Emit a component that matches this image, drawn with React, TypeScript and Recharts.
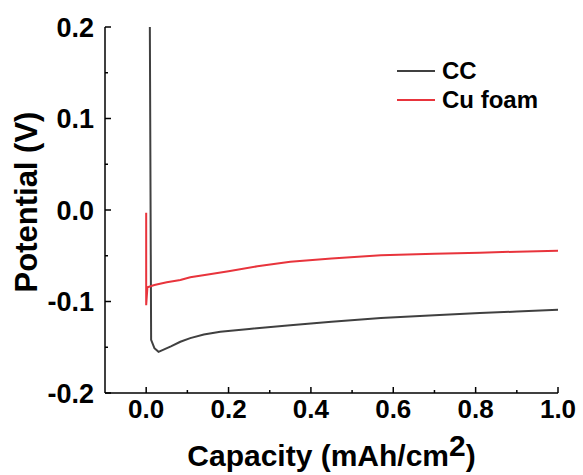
import React from "react";
import { LineChart, Line, XAxis, YAxis } from "recharts";

const ccX = [0.008, 0.012, 0.02, 0.03, 0.045, 0.06, 0.083, 0.107, 0.14, 0.18, 0.25, 0.35, 0.45, 0.57, 0.7, 0.81, 0.9, 1.0];
const ccY = [0.3, -0.142, -0.151, -0.155, -0.152, -0.149, -0.144, -0.14, -0.136, -0.133, -0.13, -0.126, -0.122, -0.118, -0.115, -0.1126, -0.111, -0.109];

const cuX = [0.0, 0.0, 0.003, 0.02, 0.05, 0.083, 0.107, 0.15, 0.2, 0.27, 0.35, 0.45, 0.57, 0.7, 0.81, 0.9, 1.0];
const cuY = [-0.003, -0.104, -0.0845, -0.082, -0.079, -0.0765, -0.0735, -0.0705, -0.067, -0.0615, -0.0565, -0.053, -0.0495, -0.0478, -0.0467, -0.0455, -0.0445];

const xTicks = [0, 0.1, 0.2, 0.3, 0.4, 0.5, 0.6, 0.7, 0.8, 0.9, 1.0];
const yTicks = [-0.2, -0.15, -0.1, -0.05, 0, 0.05, 0.1, 0.15, 0.2];

const seriesNames = ["CC", "Cu foam"];
const seriesColors = ["#404040", "#e8343c"];

const ccData = ccX.map((x, i) => ({ x, v: ccY[i] }));
const cuData = cuX.map((x, i) => ({ x, v: cuY[i] }));

const FONT = "'Liberation Sans', Arial, Helvetica, sans-serif";

const XTick = (props: any) => {
  const { x, y, payload } = props;
  const v = payload.value;
  const major = Math.round(v * 10) % 2 === 0;
  return (
    <g>
      <line x1={x} y1={y} x2={x} y2={y - (major ? 6 : 3)} stroke="#000" strokeWidth={1.5} />
      {major && (
        <text x={x} y={y + 25} textAnchor="middle" fontFamily={FONT} fontWeight="bold" fontSize={26} fill="#000">
          {v.toFixed(1)}
        </text>
      )}
    </g>
  );
};

const YTick = (props: any) => {
  const { x, y, payload } = props;
  const v = payload.value;
  const major = Math.abs(Math.round(v * 100)) % 10 === 0;
  return (
    <g>
      <line x1={x} y1={y} x2={x + (major ? 6 : 3)} y2={y} stroke="#000" strokeWidth={1.5} />
      {major && (
        <text x={x - 11} y={y + 9.5} textAnchor="end" fontFamily={FONT} fontWeight="bold" fontSize={27} fill="#000">
          {v.toFixed(1)}
        </text>
      )}
    </g>
  );
};

const LegendBox = () => (
  <svg width={170} height={60} style={{ position: "absolute", left: 397, top: 61, overflow: "visible" }}>
    {seriesNames.map((n, i) => (
      <g key={n}>
        <line x1={0} x2={38} y1={10 + i * 29} y2={10 + i * 29} stroke={seriesColors[i]} strokeWidth={2.2} />
        <text x={45} y={18 + i * 29} fontFamily={FONT} fontWeight="bold" fontSize={24} fill="#000">
          {n}
        </text>
      </g>
    ))}
  </svg>
);

export default function App() {
  return (
    <div style={{ position: "absolute", left: 0, top: 0, width: 583, height: 475, background: "#fff" }}>
      <LineChart width={583} height={475} margin={{ top: 27, right: 25, left: 0, bottom: 0 }}>
        <XAxis
          xAxisId={0}
          dataKey="x"
          type="number"
          domain={[-0.1, 1.0]}
          ticks={xTicks}
          allowDataOverflow
          interval={0}
          height={82}
          tickSize={0}
          tickMargin={0}
          tickLine={false}
          axisLine={{ stroke: "#000", strokeWidth: 1.5 }}
          tick={<XTick />}
          label={{
            content: (p: any) => {
              const vb = p.viewBox;
              return (
                <text x={vb.x + vb.width / 2} y={466} textAnchor="middle" fontFamily={FONT} fontWeight="bold" fontSize={30} fill="#000">
                  Capacity (mAh/cm<tspan dy={-10}>2</tspan><tspan dy={10}>)</tspan>
                </text>
              );
            },
          }}
        />
        <XAxis xAxisId="top" orientation="top" type="number" domain={[-0.1, 1.0]} height={0} tick={false} tickLine={false} axisLine={{ stroke: "#000", strokeWidth: 1.5 }} />
        <YAxis
          yAxisId={0}
          type="number"
          domain={[-0.2, 0.2]}
          ticks={yTicks}
          allowDataOverflow
          interval={0}
          width={105}
          tickSize={0}
          tickMargin={0}
          tickLine={false}
          axisLine={{ stroke: "#000", strokeWidth: 1.5 }}
          tick={<YTick />}
          label={{
            content: () => {
              const cx = 37;
              const cy = 202;
              return (
                <text x={cx} y={cy} transform={`rotate(-90, ${cx}, ${cy})`} textAnchor="middle" fontFamily={FONT} fontWeight="bold" fontSize={31} fill="#000">
                  Potential (V)
                </text>
              );
            },
          }}
        />
        <YAxis yAxisId="right" orientation="right" type="number" domain={[-0.2, 0.2]} width={0} tick={false} tickLine={false} axisLine={{ stroke: "#000", strokeWidth: 1.5 }} />
        <Line data={ccData} dataKey="v" name={seriesNames[0]} type="linear" stroke={seriesColors[0]} strokeWidth={2} dot={false} isAnimationActive={false} />
        <Line data={cuData} dataKey="v" name={seriesNames[1]} type="linear" stroke={seriesColors[1]} strokeWidth={2} dot={false} isAnimationActive={false} />
      </LineChart>
      <LegendBox />
    </div>
  );
}
